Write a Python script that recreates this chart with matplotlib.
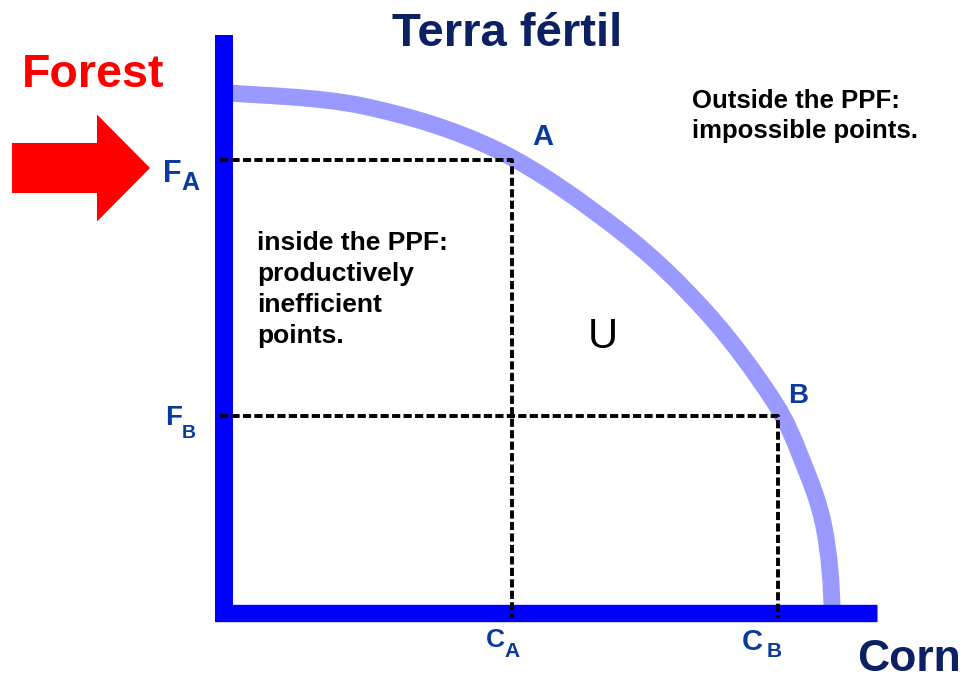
import matplotlib
matplotlib.use("Agg")
import matplotlib.pyplot as plt
from matplotlib.patches import FancyArrow, PathPatch
from matplotlib.path import Path

# ---- data (pixel-like units, origin at the axes corner) ----
ppf_corn = [6, 139, 273, 396, 483, 549, 578, 600, 608]
ppf_forest = [520, 507, 463, 382, 300, 213, 153, 86, 0]
point_names = ["A", "B"]
point_corn = [288, 554]
point_forest = [453, 197]
axis_corn_max = 653
axis_forest_max = 578

title = "Terra fértil"
y_name = "Forest"
x_name = "Corn"
inside_text = "inside the PPF:\nproductively\ninefficient\npoints."
outside_text = "Outside the PPF:\nimpossible points."

FONT = "Liberation Sans"
NAVY = "#0b2163"
LBL = "#0a3a9c"

fig = plt.figure(figsize=(9.67, 6.80), dpi=100)
ax = fig.add_axes([0, 0, 1, 1])
ax.set_xlim(-224, 743)
ax.set_ylim(-67, 613)
ax.axis("off")

# PPF curve: smooth cubic path through the read points (vertical tangent where it meets the corn axis)
pts = list(zip(ppf_corn, ppf_forest))
verts = [pts[0]]
codes = [Path.MOVETO]
n = len(pts)
for i in range(n - 1):
    p0 = pts[max(i - 1, 0)]
    p1 = pts[i]
    p2 = pts[i + 1]
    p3 = pts[min(i + 2, n - 1)]
    c1 = (p1[0] + (p2[0] - p0[0]) / 6.0, p1[1] + (p2[1] - p0[1]) / 6.0)
    if i == n - 2:
        c2 = (p2[0], p2[1] + (p1[1] - p2[1]) / 3.0)
    else:
        c2 = (p2[0] - (p3[0] - p1[0]) / 6.0, p2[1] - (p3[1] - p1[1]) / 6.0)
    verts += [c1, c2, p2]
    codes += [Path.CURVE4] * 3
ax.add_patch(PathPatch(Path(verts, codes), facecolor="none", edgecolor="#9999ff",
                       lw=12.2, capstyle="butt", joinstyle="round", zorder=2))

# axes bars
ax.plot([0, 0], [-9, axis_forest_max], color="#0000ff", lw=13, solid_capstyle="butt", zorder=3)
ax.plot([-9, axis_corn_max], [0, 0], color="#0000ff", lw=12.5, solid_capstyle="butt", zorder=3)

# dashed guides
for cx, fy in zip(point_corn, point_forest):
    ax.plot([-4, cx, cx], [fy, fy, -5], color="black", lw=2.8, dashes=(2.1, 0.85),
            solid_joinstyle="miter", zorder=4)

# point labels
ax.text(point_corn[0] + 20, point_forest[0] + 15, point_names[0], color=LBL, fontsize=21,
        fontweight="bold", family=FONT, ha="left", va="baseline", zorder=5)
ax.text(point_corn[1] + 10, point_forest[1] + 13, point_names[1], color=LBL, fontsize=20,
        fontweight="bold", family=FONT, ha="left", va="baseline", zorder=5)

# F_A, F_B
ax.text(-61, 431, "F", color=LBL, fontsize=22, fontweight="bold", family=FONT, ha="left", va="baseline")
ax.text(-43, 423, "A", color=LBL, fontsize=18, fontweight="bold", family=FONT, ha="left", va="baseline")
ax.text(-59, 188, "F", color=LBL, fontsize=20, fontweight="bold", family=FONT, ha="left", va="baseline")
ax.text(-42, 175, "B", color=LBL, fontsize=14, fontweight="bold", family=FONT, ha="left", va="baseline")
# C_A, C_B
ax.text(262, -34, "C", color=LBL, fontsize=19, fontweight="bold", family=FONT, ha="left", va="baseline")
ax.text(280, -44, "A", color=LBL, fontsize=15, fontweight="bold", family=FONT, ha="left", va="baseline")
ax.text(518, -37, "C", color=LBL, fontsize=21, fontweight="bold", family=FONT, ha="left", va="baseline")
ax.text(543, -44, "B", color=LBL, fontsize=15, fontweight="bold", family=FONT, ha="left", va="baseline")

# titles
ax.text(168, 567, title, color=NAVY, fontsize=34, fontweight="bold", family=FONT, ha="left", va="baseline")
ax.text(-202, 526, y_name, color="#ff0000", fontsize=33.5, fontweight="bold", family=FONT, ha="left", va="baseline")
ax.text(633, -58, x_name, color=NAVY, fontsize=32, fontweight="bold", family=FONT, ha="left", va="baseline")

# region notes
ax.text(33, 382, inside_text, color="black", fontsize=19, fontweight="bold", family=FONT,
        ha="left", va="top", linespacing=1.36)
ax.text(468, 524, outside_text, color="black", fontsize=18.5, fontweight="bold", family=FONT,
        ha="left", va="top", linespacing=1.3)
ax.text(364, 265, "U", color="black", fontsize=30, family=FONT, ha="left", va="baseline")

# red arrow
ax.add_patch(FancyArrow(-212, 445, 138, 0, width=50, head_width=107, head_length=53,
                        length_includes_head=True, color="#ff0000", lw=0, zorder=5))

fig.savefig("out.png", dpi=100, facecolor="white")
